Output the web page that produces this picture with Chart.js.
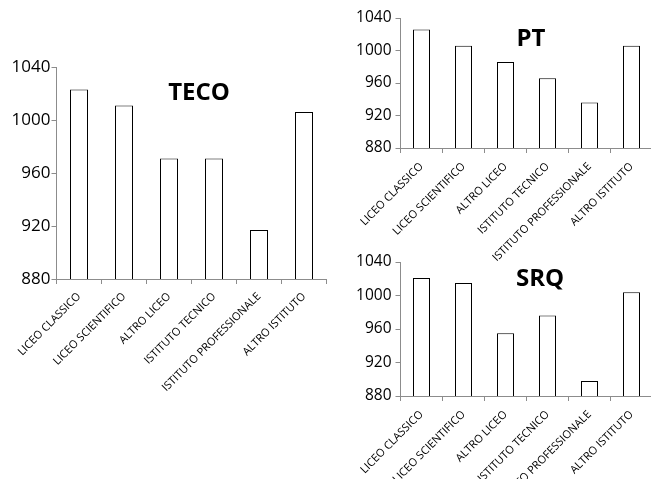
<!DOCTYPE html>
<html>
<head>
<meta charset="utf-8">
<script src="https://cdn.jsdelivr.net/npm/chart.js@4"></script>
<style>
    html, body { margin: 0; padding: 0; background: #fff; overflow: hidden; width: 651px; height: 479px; }
    .box { position: absolute; }
</style>
</head>
<body>
<div class="box" style="left:0;top:0;width:335px;height:479px"><canvas id="tecoChart"></canvas></div>
<div class="box" style="left:335px;top:240px;width:325px;height:239px"><canvas id="srqChart"></canvas></div>
<div class="box" style="left:335px;top:0;width:325px;height:300px"><canvas id="ptChart"></canvas></div>
<script>

const categories = [
    "LICEO CLASSICO",
    "LICEO SCIENTIFICO",
    "ALTRO LICEO",
    "ISTITUTO TECNICO",
    "ISTITUTO PROFESSIONALE",
    "ALTRO ISTITUTO"
];

const tecoValues = [1023, 1011, 971, 971, 917, 1006];
const ptValues = [1026, 1006, 986, 966, 936, 1006];
const srqValues = [1021, 1015, 955, 976, 898, 1004];

const yMin = 880;
const yMax = 1040;
const yStep = 40;

const AXIS_GREY = "#8c8c8c";
const FONT = "'Open Sans', 'DejaVu Sans', sans-serif";


// title drawn inside the plot area, like the original
const innerTitle = {
    id: "innerTitle",
    afterDraw(chart, args, opts) {
        const area = chart.chartArea;
        const ctx = chart.ctx;
        ctx.save();
        ctx.font = "bold " + opts.size + "px " + FONT;
        ctx.fillStyle = "#000";
        ctx.textAlign = "center";
        ctx.textBaseline = "middle";
        ctx.fillText(opts.text,
            area.left + (area.right - area.left) * opts.x,
            area.top + (area.bottom - area.top) * opts.y);
        ctx.restore();
    }
};


function makeChart(canvasId, values, cfg) {
    return new Chart(document.getElementById(canvasId), {
        type: "bar",
        data: {
            labels: categories,
            datasets: [{
                data: values,
                backgroundColor: "#ffffff",
                borderColor: "#000000",
                borderWidth: 1,
                barPercentage: cfg.barPct,
                categoryPercentage: 1.0
            }]
        },
        options: {
            responsive: true,
            maintainAspectRatio: false,
            animation: false,
            layout: {
                padding: { top: cfg.top, right: cfg.right, left: 0, bottom: 0 }
            },
            plugins: {
                legend: { display: false },
                tooltip: { enabled: false },
                innerTitle: cfg.title
            },
            scales: {
                x: {
                    grid: {
                        offset: true,
                        drawOnChartArea: false,
                        tickLength: 5,
                        color: AXIS_GREY
                    },
                    border: { color: AXIS_GREY },
                    ticks: {
                        autoSkip: false,
                        maxRotation: 45,
                        minRotation: 45,
                        padding: cfg.xPad,
                        color: "#000",
                        font: { family: FONT, size: cfg.xFont }
                    },
                    afterFit: scale => { scale.height = cfg.xHeight; }
                },
                y: {
                    min: yMin,
                    max: yMax,
                    grid: {
                        drawOnChartArea: false,
                        tickLength: 5,
                        color: AXIS_GREY
                    },
                    border: { color: AXIS_GREY },
                    ticks: {
                        stepSize: yStep,
                        padding: cfg.yPad,
                        color: "#000",
                        font: { family: FONT, size: cfg.yFont },
                        callback: value => String(value)
                    },
                    afterFit: scale => { scale.width = cfg.yWidth; }
                }
            }
        },
        plugins: [innerTitle]
    });
}


makeChart("tecoChart", tecoValues, {
    top: 67, right: 8.5, xHeight: 200, yWidth: 56.5, yPad: 1, xPad: 6,
    xFont: 11, yFont: 17, barPct: 0.4,
    title: { text: "TECO", size: 24, x: 0.528, y: 0.124 }
});

makeChart("ptChart", ptValues, {
    top: 18, right: 7.5, xHeight: 152, yWidth: 65.5, yPad: 4, xPad: 7,
    xFont: 11, yFont: 15.5, barPct: 17 / 42,
    title: { text: "PT", size: 24, x: 0.518, y: 0.162 }
});

makeChart("srqChart", srqValues, {
    top: 22, right: 7.5, xHeight: 83, yWidth: 65.5, yPad: 4, xPad: 7,
    xFont: 11, yFont: 15.5, barPct: 17 / 42,
    title: { text: "SRQ", size: 24, x: 0.554, y: 0.129 }
});
</script>
</body>
</html>
